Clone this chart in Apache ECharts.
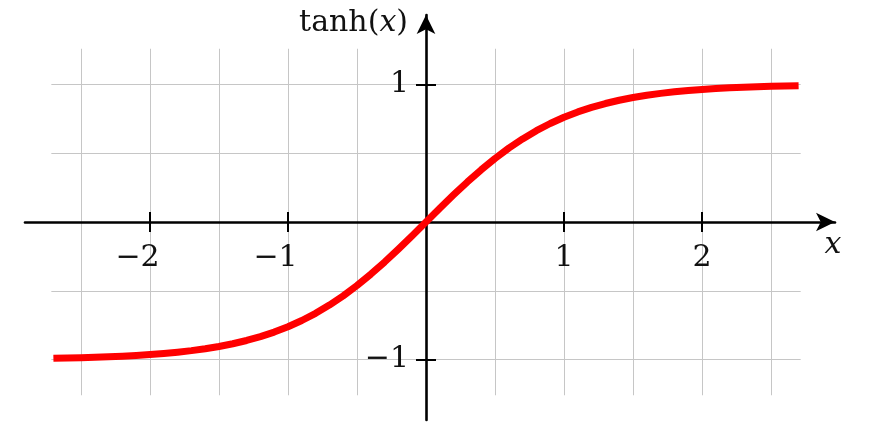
<!DOCTYPE html>
<html><head><meta charset="utf-8">
<script src="https://cdn.jsdelivr.net/npm/echarts@6/dist/echarts.min.js"></script>
<style>html,body{margin:0;padding:0;background:#fff}#c{width:890px;height:447px}</style>
</head><body><div id="c"></div><script>
const xValues = [-2.7,-2.6,-2.5,-2.4,-2.3,-2.2,-2.1,-2.0,-1.9,-1.8,-1.7,-1.6,-1.5,-1.4,-1.3,-1.2,-1.1,-1.0,-0.9,-0.8,-0.7,-0.6,-0.5,-0.4,-0.3,-0.2,-0.1,0,
  0.1,0.2,0.3,0.4,0.5,0.6,0.7,0.8,0.9,1.0,1.1,1.2,1.3,1.4,1.5,1.6,1.7,1.8,1.9,2.0,2.1,2.2,2.3,2.4,2.5,2.6,2.7];
const tanhValues = [-0.991,-0.989,-0.9866,-0.9837,-0.9801,-0.9757,-0.9705,-0.964,-0.9562,-0.9468,-0.9354,-0.9217,-0.9051,-0.8854,-0.8617,-0.8337,-0.8005,-0.7616,-0.7163,-0.664,-0.6044,-0.537,-0.4621,-0.3799,-0.2913,-0.1974,-0.0997,0,
  0.0997,0.1974,0.2913,0.3799,0.4621,0.537,0.6044,0.664,0.7163,0.7616,0.8005,0.8337,0.8617,0.8854,0.9051,0.9217,0.9354,0.9468,0.9562,0.964,0.9705,0.9757,0.9801,0.9837,0.9866,0.989,0.991];
const xTickValues = [-2, -1, 1, 2];
const yTickValues = [-1, 1];
const gridStep = 0.5;
const xTitle = 'x';
const yTitleFn = 'tanh';

const FONT = 'DejaVu Serif';
const FS = 30;
const PX = 138, PY = 137.5, OX = 426, OY = 222;
function gridFor(x0, x1, y0, y1) {
  return { left: OX + x0 * PX, width: (x1 - x0) * PX, top: OY - y1 * PY, height: (y1 - y0) * PY,
           containLabel: false, outerBoundsMode: 'none' };
}
const R_CURVE = [-2.715, 2.715, -1.26, 1.26];
const R_VGRID = [-2.5, 2.5, -1.26, 1.26];
const R_HGRID = [-2.715, 2.715, -1, 1];
// x-axis band: bottom edge on y = 0 ; y-axis band: left edge on x = 0
const R_XAX = [-2.9058, 2.9638, 0, 0.7];
const R_YAX = [0, 0.7, -1.44, 1.5055];

function hiddenAxis(gi, r, extra) {
  return Object.assign({
    type: 'value', gridIndex: gi, min: r[0], max: r[1],
    axisLine: { show: false }, axisTick: { show: false }, axisLabel: { show: false }, splitLine: { show: false }
  }, extra || {});
}
const gridLine = { show: true, lineStyle: { color: '#c6c6c6', width: 1 } };
const minus = v => v < 0 ? '\u2212' + Math.abs(v) : String(v);
const tickStyle = { color: '#000', width: 2 };
const axisStyle = { color: '#000', width: 2.6 };
const arrowSize = [14, 19];

const chart = echarts.init(document.getElementById('c'), null, { renderer: 'canvas' });
chart.setOption({
  backgroundColor: '#ffffff',
  animation: false,
  grid: [
    gridFor(...R_CURVE), gridFor(...R_VGRID), gridFor(...R_HGRID),
    gridFor(...R_XAX), gridFor(...R_XAX), gridFor(...R_YAX), gridFor(...R_YAX)
  ],
  xAxis: [
    hiddenAxis(0, R_CURVE.slice(0, 2)),
    hiddenAxis(1, R_VGRID.slice(0, 2), { interval: gridStep, splitLine: gridLine, z: 0 }),
    hiddenAxis(2, R_HGRID.slice(0, 2)),
    {
      type: 'value', gridIndex: 3, min: R_XAX[0], max: R_XAX[1], position: 'bottom', z: 5,
      axisLine: { show: true, onZero: false, symbol: ['none', 'arrow'], symbolSize: arrowSize, lineStyle: axisStyle },
      axisTick: { show: true, inside: false, length: 10, customValues: xTickValues, lineStyle: tickStyle },
      axisLabel: {
        show: true, customValues: xTickValues, margin: 21, fontFamily: FONT, fontSize: FS, color: '#111',
        formatter: v => v < 0 ? minus(v) + '{s| }' : String(v),
        rich: { s: { width: 25, fontFamily: FONT, fontSize: FS } }
      },
      splitLine: { show: false },
      name: '{i|' + xTitle + '}', nameLocation: 'end', nameGap: -2,
      nameTextStyle: { align: 'center', verticalAlign: 'top', padding: [8, 0, 0, 0],
        rich: { i: { fontFamily: FONT, fontSize: FS, fontStyle: 'italic', color: '#111' } } }
    },
    {
      type: 'value', gridIndex: 4, min: R_XAX[0], max: R_XAX[1], position: 'bottom', z: 5,
      axisLine: { show: false, onZero: false },
      axisTick: { show: true, inside: true, length: 10, customValues: xTickValues, lineStyle: tickStyle },
      axisLabel: { show: false }, splitLine: { show: false }
    },
    hiddenAxis(5, R_YAX.slice(0, 2)),
    hiddenAxis(6, R_YAX.slice(0, 2))
  ],
  yAxis: [
    hiddenAxis(0, R_CURVE.slice(2, 4)),
    hiddenAxis(1, R_VGRID.slice(2, 4)),
    hiddenAxis(2, R_HGRID.slice(2, 4), { interval: gridStep, splitLine: gridLine, z: 0 }),
    hiddenAxis(3, R_XAX.slice(2, 4)),
    hiddenAxis(4, R_XAX.slice(2, 4)),
    {
      type: 'value', gridIndex: 5, min: R_YAX[2], max: R_YAX[3], position: 'left', z: 5,
      axisLine: { show: true, onZero: false, symbol: ['none', 'arrow'], symbolSize: arrowSize, lineStyle: axisStyle },
      axisTick: { show: true, inside: false, length: 10, customValues: yTickValues, lineStyle: tickStyle },
      axisLabel: { show: true, customValues: yTickValues, margin: 17, fontFamily: FONT, fontSize: FS, color: '#111',
        formatter: minus, padding: [6, 0, 0, 0] },
      splitLine: { show: false },
      name: '{n|' + yTitleFn + '(}{i|' + xTitle + '}{n|)}', nameLocation: 'end', nameGap: -8.5,
      nameTextStyle: { align: 'right', verticalAlign: 'middle', padding: [0, 18, 0, 0],
        rich: { n: { fontFamily: FONT, fontSize: FS, color: '#111' }, i: { fontFamily: FONT, fontSize: FS, fontStyle: 'italic', color: '#111' } } }
    },
    {
      type: 'value', gridIndex: 6, min: R_YAX[2], max: R_YAX[3], position: 'left', z: 5,
      axisLine: { show: false, onZero: false },
      axisTick: { show: true, inside: true, length: 10, customValues: yTickValues, lineStyle: tickStyle },
      axisLabel: { show: false }, splitLine: { show: false }
    }
  ],
  series: [{
    type: 'line', xAxisIndex: 0, yAxisIndex: 0, z: 10,
    data: xValues.map((x, i) => [x, tanhValues[i]]),
    showSymbol: false, smooth: false, clip: false,
    lineStyle: { color: '#ff0000', width: 7, cap: 'butt', join: 'round' }
  }]
});
</script></body></html>
